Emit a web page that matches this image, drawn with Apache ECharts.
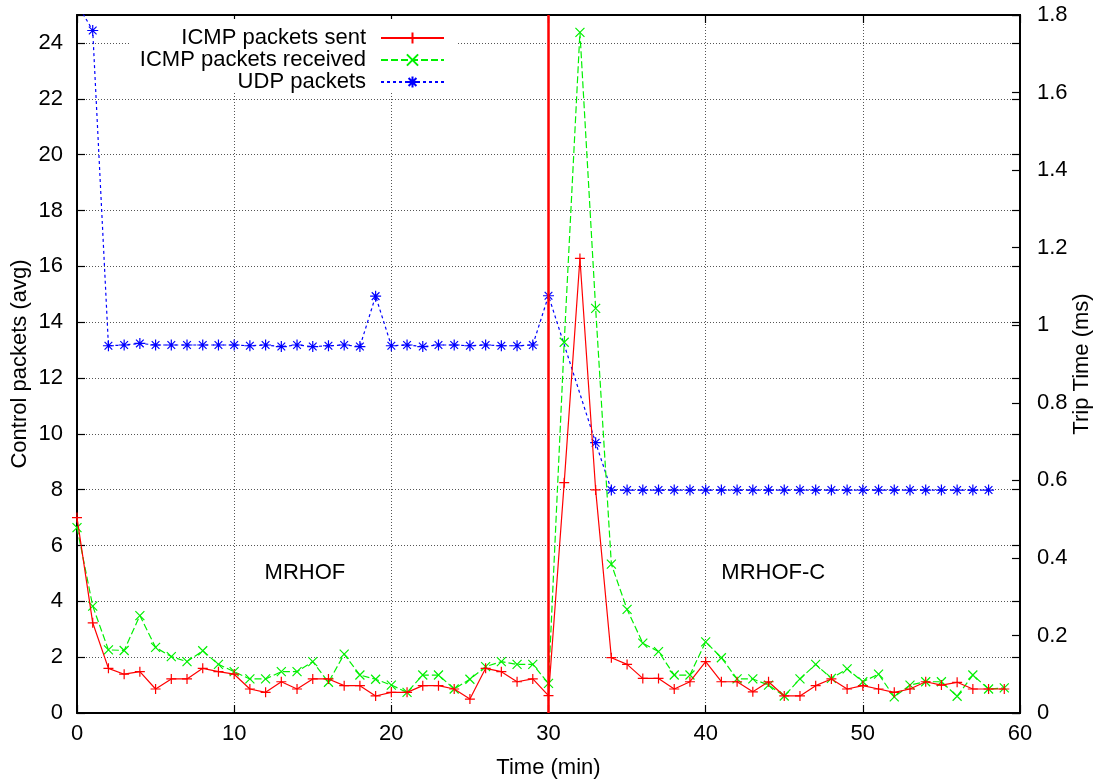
<!DOCTYPE html>
<html>
<head>
<meta charset="utf-8">
<script src="https://cdn.jsdelivr.net/npm/echarts@6/dist/echarts.min.js"></script>
<style>
  html, body { margin: 0; padding: 0; background: #fff; }
  #chart { width: 1097px; height: 783px; }
</style>
</head>
<body>
<div id="chart"></div>
<script>
// ---- data ----
const minutes = [0,1,2,3,4,5,6,7,8,9,10,11,12,13,14,15,16,17,18,19,20,21,22,23,24,25,26,27,28,29,
                 30,31,32,33,34,35,36,37,38,39,40,41,42,43,44,45,46,47,48,49,50,51,52,53,54,55,56,57,58,59];
const icmpSent = [7.0,3.23,1.60,1.39,1.48,0.86,1.22,1.22,1.60,1.48,1.39,0.86,0.74,1.12,0.86,1.22,1.22,0.98,0.98,0.61,
                  0.74,0.74,0.98,0.98,0.86,0.50,1.60,1.48,1.12,1.22,0.62,8.25,16.28,7.99,1.98,1.74,1.24,1.24,0.86,1.12,
                  1.84,1.12,1.12,0.76,1.12,0.61,0.61,0.98,1.22,0.86,0.98,0.86,0.74,0.86,1.12,1.00,1.10,0.86,0.86,0.86];
const icmpReceived = [6.64,3.83,2.26,2.24,3.49,2.35,2.02,1.84,2.23,1.74,1.48,1.22,1.22,1.48,1.48,1.84,1.10,2.11,1.36,1.21,
                      1.00,0.74,1.36,1.36,0.86,1.21,1.66,1.84,1.74,1.74,1.06,13.28,24.38,14.49,5.33,3.71,2.50,2.20,1.36,1.36,
                      2.55,1.98,1.22,1.22,1.00,0.61,1.22,1.74,1.24,1.58,1.12,1.39,0.58,1.00,1.12,1.12,0.60,1.36,0.86,0.90];
const udpTrip = [1.83,1.76,0.947,0.949,0.953,0.949,0.949,0.949,0.949,0.949,0.949,0.947,0.949,0.945,0.949,0.945,0.947,0.949,0.945,1.075,
                 0.947,0.949,0.945,0.949,0.949,0.947,0.949,0.947,0.947,0.949,1.076,null,null,0.697,0.575,0.575,0.575,0.575,0.575,0.575,
                 0.575,0.575,0.575,0.575,0.575,0.575,0.575,0.575,0.575,0.575,0.575,0.575,0.575,0.575,0.575,0.575,0.575,0.575,0.575];
const seriesNames = ['ICMP packets sent', 'ICMP packets received', 'UDP packets'];
const phaseLabels = ['MRHOF', 'MRHOF-C'];
const phaseSwitch = 30;

// ---- chart ----
const FONT = 'Liberation Sans, Arial, Helvetica, sans-serif';
const FS = 22;
const pair = (ys) => minutes.slice(0, ys.length).map((m, i) => [m, ys[i]]);

const gridLine = { show: true, lineStyle: { color: '#555', width: 1, type: [1, 2] } };
const axLine = { show: true, onZero: false, lineStyle: { color: '#000', width: 2 } };
const axTick = { show: true, inside: true, length: 8, lineStyle: { color: '#000', width: 1.2 } };
const labelStyle = { color: '#000', fontSize: FS, fontFamily: FONT };

const chart = echarts.init(document.getElementById('chart'), null, { renderer: 'canvas' });
chart.setOption({
  animation: false,
  backgroundColor: '#fff',
  textStyle: { fontFamily: FONT },
  grid: { left: 77, right: 77, top: 15, bottom: 70, containLabel: false, outerBoundsMode: 'none' },
  legend: {
    data: seriesNames,
    orient: 'vertical',
    align: 'right',
    right: 639,
    top: 19,
    padding: [8, 13, 0, 10],
    itemGap: 0,
    itemWidth: 63,
    itemHeight: 14,
    backgroundColor: '#fff',
    textStyle: { color: '#000', fontSize: FS, fontFamily: FONT, lineHeight: 22, padding: [0, 10, 0, 0] }
  },
  xAxis: [
    {
      type: 'value', position: 'bottom', min: 0, max: 60, interval: 10,
      axisLine: axLine, axisTick: axTick, splitLine: gridLine,
      axisLabel: Object.assign({ margin: 10 }, labelStyle),
      name: 'Time (min)', nameLocation: 'middle', nameGap: 44, nameMoveOverlap: false,
      nameTextStyle: labelStyle
    },
    {
      type: 'value', position: 'top', min: 0, max: 60, interval: 10,
      axisLine: axLine, axisTick: axTick, splitLine: { show: false },
      axisLabel: { show: false }
    }
  ],
  yAxis: [
    {
      type: 'value', position: 'left', min: 0, max: 25, interval: 2,
      axisLine: axLine, axisTick: axTick, splitLine: gridLine,
      axisLabel: Object.assign({ margin: 14, formatter: v => (v % 2 === 0 ? String(v) : '') }, labelStyle),
      name: 'Control packets (avg)', nameLocation: 'middle', nameGap: 46, nameMoveOverlap: false,
      nameTextStyle: labelStyle
    },
    {
      type: 'value', position: 'right', min: 0, max: 1.8, interval: 0.2,
      axisLine: axLine, axisTick: axTick, splitLine: { show: false },
      axisLabel: Object.assign({ margin: 17, formatter: v => String(Math.round(v * 10) / 10) }, labelStyle),
      name: 'Trip Time (ms)', nameLocation: 'middle', nameGap: 51, nameMoveOverlap: false,
      nameTextStyle: labelStyle
    },
    {
      type: 'value', position: 'right', min: 0, max: 25, interval: 2,
      axisLine: axLine, axisTick: axTick, splitLine: { show: false },
      axisLabel: { show: false }
    }
  ],
  series: [
    {
      name: seriesNames[0], type: 'line', xAxisIndex: 0, yAxisIndex: 0,
      data: pair(icmpSent),
      symbol: 'path://M0,5L10,5M5,0L5,10', symbolSize: 10, symbolKeepAspect: true,
      lineStyle: { color: '#ff0000', width: 1.2, type: 'solid' },
      itemStyle: { color: '#ff0000', borderColor: '#ff0000', borderWidth: 1.2 },
      z: 4,
      markLine: {
        silent: true, symbol: ['none', 'none'],
        label: { show: false },
        lineStyle: { color: '#ff0000', width: 2.5, type: 'solid' },
        data: [{ xAxis: phaseSwitch }]
      },
      markPoint: {
        silent: true,
        symbol: 'rect', symbolSize: 1,
        itemStyle: { color: 'rgba(0,0,0,0)' },
        label: { show: true, position: 'inside', color: '#000', fontSize: FS, fontFamily: FONT, formatter: p => p.name },
        data: [
          { name: phaseLabels[0], coord: [14.5, 5] },
          { name: phaseLabels[1], coord: [44.3, 5] }
        ]
      }
    },
    {
      name: seriesNames[1], type: 'line', xAxisIndex: 0, yAxisIndex: 0,
      data: pair(icmpReceived),
      symbol: 'path://M0,0L10,10M10,0L0,10', symbolSize: 9, symbolKeepAspect: true,
      lineStyle: { color: '#00f000', width: 1.2, type: [7, 3] },
      itemStyle: { color: '#00f000', borderColor: '#00f000', borderWidth: 1.2 },
      z: 3
    },
    {
      name: seriesNames[2], type: 'line', xAxisIndex: 0, yAxisIndex: 1,
      data: pair(udpTrip),
      connectNulls: true,
      symbol: 'path://M0,5L10,5M5,0L5,10M1.5,1.5L8.5,8.5M8.5,1.5L1.5,8.5', symbolSize: 11, symbolKeepAspect: true,
      lineStyle: { color: '#0000ff', width: 1.2, type: [3, 3] },
      itemStyle: { color: '#0000ff', borderColor: '#0000ff', borderWidth: 1.2 },
      z: 2
    }
  ]
});
</script>
</body>
</html>
